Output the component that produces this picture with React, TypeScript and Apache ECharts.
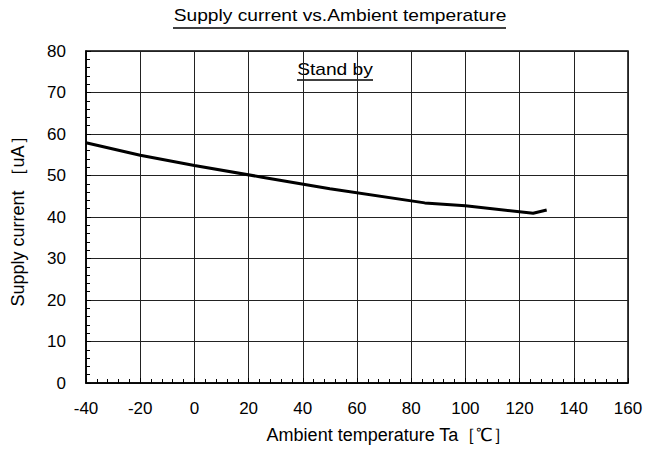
import React, { useEffect, useRef } from "react";
import * as echarts from "echarts";

const temperatures = [-40, -20, 0, 25, 50, 85, 100, 125, 130];
const supplyCurrent = [57.9, 54.9, 52.4, 49.6, 46.8, 43.4, 42.7, 40.9, 41.7];

const titleText = "Supply current vs.Ambient temperature";
const conditionText = "Stand by";
const xAxisName = "Ambient temperature Ta［℃］";
const yAxisName = "Supply current ［uA］";

const FONT = "'Liberation Sans', Arial, sans-serif";

export default function App() {
  const ref = useRef<HTMLDivElement>(null);

  useEffect(() => {
    if (!ref.current) return;
    const chart = echarts.init(ref.current, undefined, { renderer: "svg" });
    const data = temperatures.map((t, i) => [t, supplyCurrent[i]]);
    chart.setOption({
      animation: false,
      backgroundColor: "#ffffff",
      textStyle: { fontFamily: FONT, color: "#000" },
      grid: {
        left: 86,
        right: 18,
        top: 51,
        bottom: 67,
        show: true,
        borderColor: "#000",
        borderWidth: 1.5,
        backgroundColor: "transparent",
      },
      xAxis: {
        type: "value",
        min: -40,
        max: 160,
        interval: 20,
        name: xAxisName,
        nameLocation: "middle",
        nameGap: 43,
        nameTextStyle: {
          fontFamily: FONT,
          fontSize: 18,
          color: "#000",
          padding: [0, 0, 0, 64],
        },
        axisLine: { show: true, onZero: false, lineStyle: { color: "#000", width: 1.5 } },
        axisTick: { show: true, inside: true, length: 5, lineStyle: { color: "#000" } },
        minorTick: { show: true, splitNumber: 5, length: 4, lineStyle: { color: "#000" } },
        axisLabel: { fontFamily: FONT, fontSize: 17, color: "#000", margin: 17 },
        splitLine: { show: true, lineStyle: { color: "#222", width: 1 } },
      },
      yAxis: {
        type: "value",
        min: 0,
        max: 80,
        interval: 10,
        name: yAxisName,
        nameLocation: "middle",
        nameGap: 59,
        nameTextStyle: { fontFamily: FONT, fontSize: 18, color: "#000" },
        axisLine: { show: true, onZero: false, lineStyle: { color: "#000", width: 1.5 } },
        axisTick: { show: true, inside: true, length: 5, lineStyle: { color: "#000" } },
        minorTick: { show: true, splitNumber: 5, length: 4, lineStyle: { color: "#000" } },
        axisLabel: { fontFamily: FONT, fontSize: 17, color: "#000", margin: 20 },
        splitLine: { show: true, lineStyle: { color: "#222", width: 1 } },
      },
      series: [
        {
          type: "line",
          data,
          showSymbol: false,
          symbol: "none",
          lineStyle: { color: "#000", width: 3 },
          z: 5,
        },
      ],
      graphic: [
        {
          type: "text",
          x: 340,
          y: 16,
          scaleX: 1.2,
          style: {
            text: titleText,
            fontFamily: FONT,
            fontSize: 16,
            fill: "#000",
            textAlign: "center",
            textVerticalAlign: "middle",
          },
        },
        {
          type: "line",
          shape: { x1: 173, y1: 28, x2: 506, y2: 28 },
          style: { stroke: "#000", lineWidth: 1.5 },
        },
        {
          type: "text",
          x: 335,
          y: 69.5,
          scaleX: 1.2,
          style: {
            text: conditionText,
            fontFamily: FONT,
            fontSize: 16,
            fill: "#000",
            textAlign: "center",
            textVerticalAlign: "middle",
          },
        },
        {
          type: "line",
          shape: { x1: 297, y1: 80, x2: 373, y2: 80 },
          style: { stroke: "#000", lineWidth: 1.5 },
        },
      ],
    });
    return () => chart.dispose();
  }, []);

  return (
    <div
      ref={ref}
      style={{ position: "fixed", left: 0, top: 0, width: 646, height: 450, background: "#fff" }}
    />
  );
}
